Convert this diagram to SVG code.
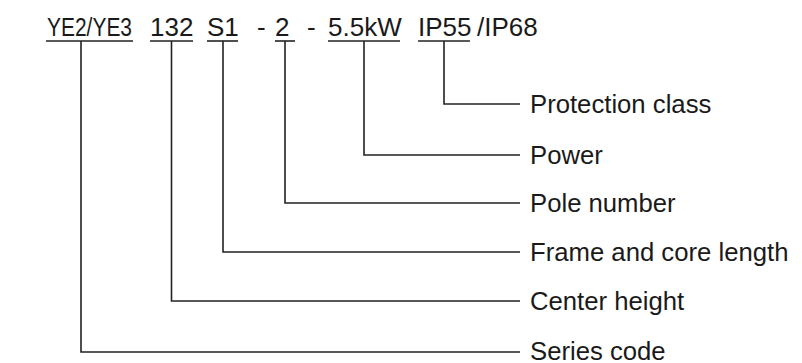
<svg xmlns="http://www.w3.org/2000/svg" width="802" height="363" viewBox="0 0 802 363">
<style>
text{font-family:"Liberation Sans",Arial,sans-serif;fill:#1a1a1a}
.code{font-size:26px}
.lbl{font-size:25.7px}
.ul{stroke:#222;stroke-width:1.6;fill:none}
.con{stroke:#222;stroke-width:1.6;fill:none}
</style>
<rect width="802" height="363" fill="#fff"/>
<g id="code">
<g id="series"><text class="code" x="47" y="36" textLength="85" lengthAdjust="spacingAndGlyphs">YE2/YE3</text><line class="ul" x1="46" y1="41" x2="133" y2="41"/></g>
<g id="height"><text class="code" x="150" y="36">132</text><line class="ul" x1="150" y1="41" x2="193" y2="41"/></g>
<g id="frame"><text class="code" x="207" y="36">S1</text><line class="ul" x1="207" y1="41" x2="238" y2="41"/></g>
<text class="code" x="257" y="36">-</text>
<g id="poles"><text class="code" x="275" y="36">2</text><line class="ul" x1="275" y1="41" x2="295" y2="41"/></g>
<text class="code" x="307" y="36">-</text>
<g id="power"><text class="code" x="328" y="36">5.5kW</text><line class="ul" x1="328" y1="41" x2="400" y2="41"/></g>
<g id="protection"><text class="code" x="418" y="36">IP55</text><line class="ul" x1="418" y1="41" x2="470" y2="41"/></g>
<text class="code" x="477" y="36">/IP68</text>
</g>
<g id="connectors">
<polyline class="con" points="444,41 444,104 520,104"/>
<polyline class="con" points="364,41 364,155 520,155"/>
<polyline class="con" points="285,41 285,203 520,203"/>
<polyline class="con" points="223,41 223,252 520,252"/>
<polyline class="con" points="171.5,41 171.5,301 520,301"/>
<polyline class="con" points="81,41 81,352 520,352"/>
</g>
<g id="label-protection"><text class="lbl" x="530" y="112.5">Protection class</text></g>
<g id="label-power"><text class="lbl" x="530" y="163.5">Power</text></g>
<g id="label-pole"><text class="lbl" x="530" y="211.5">Pole number</text></g>
<g id="label-frame"><text class="lbl" x="530" y="260.5">Frame and core length</text></g>
<g id="label-center"><text class="lbl" x="530" y="309.5">Center height</text></g>
<g id="label-series"><text class="lbl" x="530" y="359.5">Series code</text></g>
</svg>
